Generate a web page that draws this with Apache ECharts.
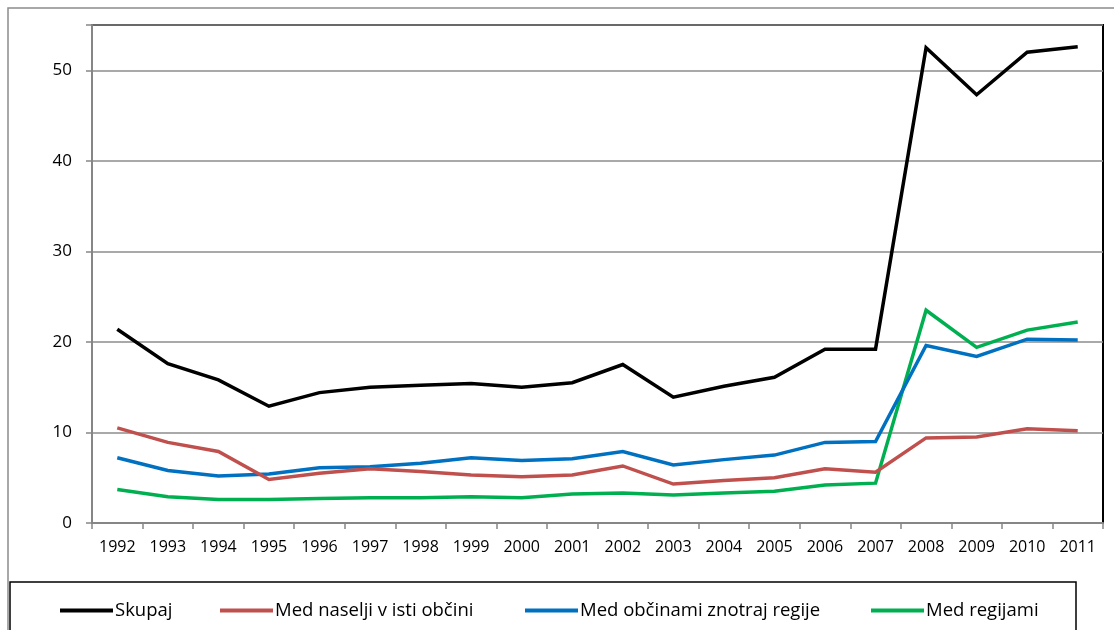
<!DOCTYPE html>
<html>
<head>
<meta charset="utf-8">
<script src="https://cdn.jsdelivr.net/npm/echarts@6/dist/echarts.min.js"></script>
<style>
html,body{margin:0;padding:0;background:#fff;}
#chart{width:1114px;height:630px;}
</style>
</head>
<body>
<div id="chart"></div>
<script>
const years = ['1992','1993','1994','1995','1996','1997','1998','1999','2000','2001','2002','2003','2004','2005','2006','2007','2008','2009','2010','2011'];
const seriesNames = ['Skupaj', 'Med naselji v isti občini', 'Med občinami znotraj regije', 'Med regijami'];
const skupaj = [21.4, 17.6, 15.8, 12.9, 14.4, 15.0, 15.2, 15.4, 15.0, 15.5, 17.5, 13.9, 15.1, 16.1, 19.2, 19.2, 52.5, 47.3, 52.0, 52.6];
const medNaselji = [10.5, 8.9, 7.9, 4.8, 5.5, 6.0, 5.7, 5.3, 5.1, 5.3, 6.3, 4.3, 4.7, 5.0, 6.0, 5.6, 9.4, 9.5, 10.4, 10.2];
const medObcinami = [7.2, 5.8, 5.2, 5.4, 6.1, 6.2, 6.6, 7.2, 6.9, 7.1, 7.9, 6.4, 7.0, 7.5, 8.9, 9.0, 19.6, 18.4, 20.3, 20.2];
const medRegijami = [3.7, 2.9, 2.6, 2.6, 2.7, 2.8, 2.8, 2.9, 2.8, 3.2, 3.3, 3.1, 3.3, 3.5, 4.2, 4.4, 23.5, 19.4, 21.3, 22.2];
const yTicks = [0, 10, 20, 30, 40, 50];

const colors = ['#000000', '#C0504D', '#0070C0', '#00B050'];
const values = [skupaj, medNaselji, medObcinami, medRegijami];
const legendLeft = [55, 215, 520, 866];
const FONT = 'Open Sans';

const chart = echarts.init(document.getElementById('chart'));
chart.setOption({
  animation: false,
  backgroundColor: '#fff',
  textStyle: { fontFamily: FONT },
  graphic: [
    { type: 'rect', z: -10, shape: { x: 8, y: 8, width: 1200, height: 700 }, style: { fill: 'none', stroke: '#8c8c8c', lineWidth: 1.5 } },
    { type: 'rect', z: -10, shape: { x: 10, y: 582, width: 1066, height: 80 }, style: { fill: '#fff', stroke: '#000', lineWidth: 1.5 } }
  ],
  legend: seriesNames.map((n, i) => ({
    data: [n],
    left: legendLeft[i],
    top: 596,
    icon: 'rect',
    itemWidth: 53,
    itemHeight: 4,
    itemGap: 4,
    textStyle: { fontFamily: FONT, fontSize: 18.5, color: '#000', padding: [0, 0, 0, -3] }
  })),
  grid: {
    left: 92, right: 11, top: 25, bottom: 107,
    show: true, borderColor: '#000', borderWidth: 2, backgroundColor: 'transparent'
  },
  xAxis: {
    type: 'category',
    data: years,
    boundaryGap: true,
    axisLine: { lineStyle: { color: '#868686', width: 2 } },
    axisTick: { show: true, length: 6, lineStyle: { color: '#868686', width: 1.5 } },
    axisLabel: { fontFamily: FONT, fontSize: 16, color: '#000', margin: 16, interval: 0 },
    splitLine: { show: false }
  },
  yAxis: {
    type: 'value',
    min: 0, max: 55, interval: 10,
    axisLine: { show: true, lineStyle: { color: '#868686', width: 2 } },
    axisTick: { show: true, length: 6, lineStyle: { color: '#868686', width: 1.5 } },
    axisLabel: {
      fontFamily: FONT, fontSize: 17, color: '#000', margin: 20,
      formatter: v => (yTicks.indexOf(v) >= 0 ? String(v) : '')
    },
    splitLine: { show: true, lineStyle: { color: '#8c8c8c', width: 1.5 } }
  },
  series: seriesNames.map((n, i) => ({
    name: n,
    type: 'line',
    data: values[i],
    color: colors[i],
    showSymbol: false,
    symbol: 'none',
    lineStyle: { width: 3.5, color: colors[i], join: 'miter' },
    z: 10 - i
  }))
});
</script>
</body>
</html>
